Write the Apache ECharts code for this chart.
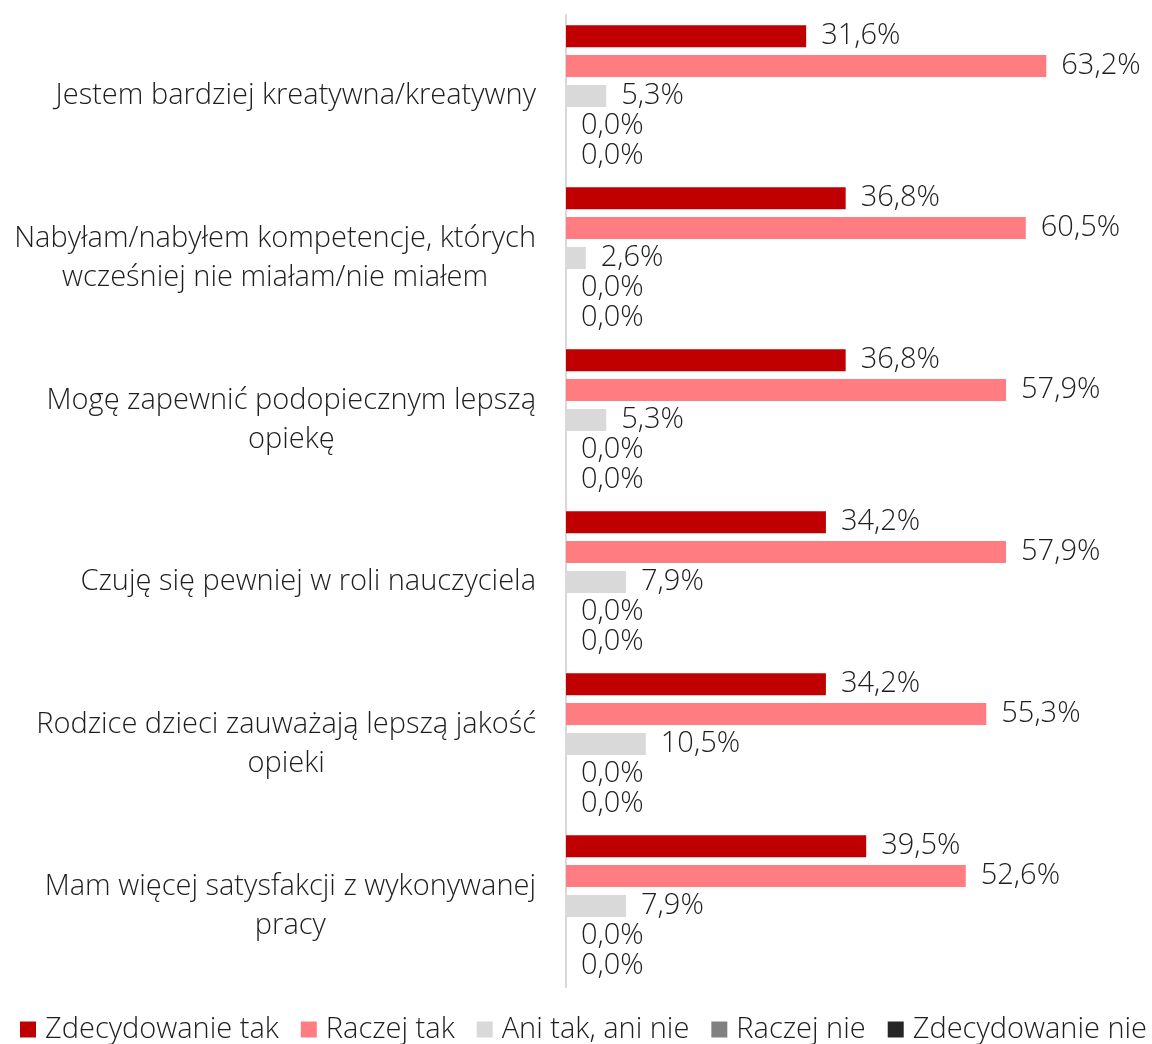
<!DOCTYPE html>
<html>
<head>
<meta charset="utf-8">
<script src="https://cdn.jsdelivr.net/npm/echarts@6/dist/echarts.min.js"></script>
<style>
  html, body { margin: 0; padding: 0; background: #fff; }
  #chart { width: 1152px; height: 1044px; }
</style>
</head>
<body>
<div id="chart"></div>
<script>
const categories = [
  'Jestem bardziej kreatywna/kreatywny',
  'Nabyłam/nabyłem kompetencje, których\nwcześniej nie miałam/nie miałem',
  'Mogę zapewnić podopiecznym lepszą\nopiekę',
  'Czuję się pewniej w roli nauczyciela',
  'Rodzice dzieci zauważają lepszą jakość\nopieki',
  'Mam więcej satysfakcji z wykonywanej\npracy'
];
const seriesNames = ['Zdecydowanie tak', 'Raczej tak', 'Ani tak, ani nie', 'Raczej nie', 'Zdecydowanie nie'];
const seriesColors = ['#C00000', '#FF7C80', '#D9D9D9', '#808080', '#262626'];
const zdecydowanieTak = [31.6, 36.8, 36.8, 34.2, 34.2, 39.5];
const raczejTak = [63.2, 60.5, 57.9, 57.9, 55.3, 52.6];
const aniTakAniNie = [5.3, 2.6, 5.3, 7.9, 10.5, 7.9];
const raczejNie = [0, 0, 0, 0, 0, 0];
const zdecydowanieNie = [0, 0, 0, 0, 0, 0];
const seriesData = [zdecydowanieTak, raczejTak, aniTakAniNie, raczejNie, zdecydowanieNie];

const FONT = '"Open Sans", sans-serif';
const FS = 29;
const TXT = '#1e1e1e';

const chart = echarts.init(document.getElementById('chart'));
chart.setOption({
  animation: false,
  textStyle: { fontFamily: FONT },
  grid: { left: 566, right: 54, top: 15, bottom: 57, containLabel: false },
  xAxis: {
    type: 'value',
    min: 0,
    max: 70,
    show: false
  },
  yAxis: {
    type: 'category',
    inverse: true,
    data: categories,
    axisLine: { show: true, lineStyle: { color: '#D9D9D9', width: 2 } },
    axisTick: { show: false },
    axisLabel: {
      margin: 30,
      color: TXT,
      fontSize: FS,
      fontWeight: 300,
      fontFamily: FONT,
      lineHeight: 39,
      formatter: (v) => v.split('\n').map((l) => '{c|' + l + '}').join('\n'),
      rich: {
        c: { align: 'center', fontSize: FS, fontWeight: 300, lineHeight: 39, color: TXT, fontFamily: FONT }
      }
    }
  },
  legend: {
    top: 1015,
    left: 20,
    width: 1132,
    padding: 0,
    itemWidth: 16,
    itemHeight: 16,
    itemGap: 22,
    icon: 'rect',
    textStyle: { fontSize: FS, fontWeight: 300, color: TXT, fontFamily: FONT, padding: [0, 0, 0, 4] },
    data: seriesNames
  },
  series: seriesData.map((d, i) => ({
    name: seriesNames[i],
    type: 'bar',
    data: d,
    barWidth: 22,
    barGap: '36%',
    itemStyle: { color: seriesColors[i] },
    label: {
      show: true,
      position: 'right',
      distance: 15,
      color: TXT,
      fontSize: FS,
      fontWeight: 300,
      fontFamily: FONT,
      formatter: (p) => p.value.toFixed(1).replace('.', ',') + '%'
    }
  }))
});
</script>
</body>
</html>
